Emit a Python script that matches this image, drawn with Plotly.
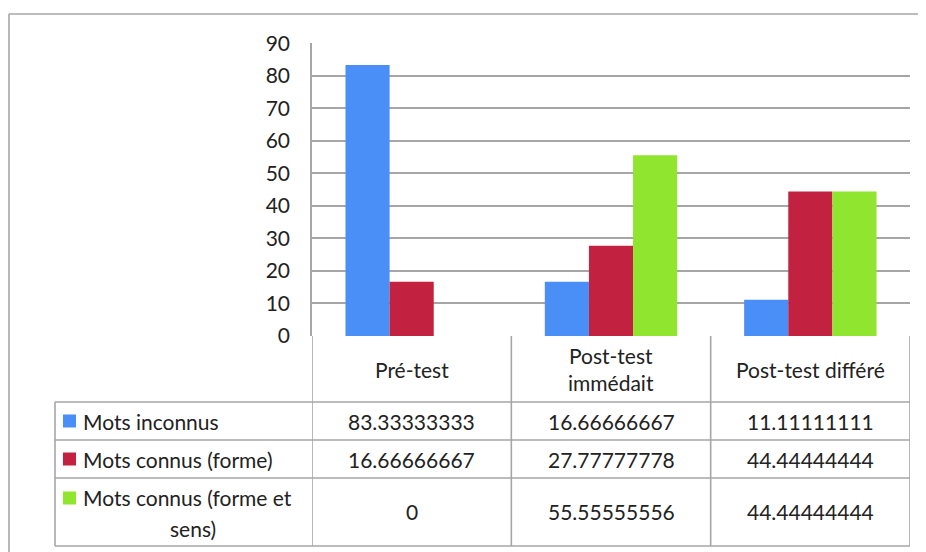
import plotly.graph_objects as go

categories = ["Pré-test", "Post-test<br>immédait", "Post-test différé"]
series_names = ["Mots inconnus", "Mots connus (forme)", "Mots connus (forme et sens)"]
mots_inconnus = [83.33333333, 16.66666667, 11.11111111]
mots_connus_forme = [16.66666667, 27.77777778, 44.44444444]
mots_connus_forme_sens = [0, 55.55555556, 44.44444444]
series_values = [mots_inconnus, mots_connus_forme, mots_connus_forme_sens]
colors = ["#4A8EF8", "#C2223F", "#90E52E"]
y_ticks = [0, 10, 20, 30, 40, 50, 60, 70, 80, 90]

W, H = 926, 552
OFF = 8  # page body margin
FONT = "Lato"
FS = 21
TXT = "#222222"
GRID = "#A6A6A6"

def px(x):
    return (x - OFF) / W

def py(y):
    return 1 - (y - OFF) / H

plot_left, plot_right, plot_top, plot_bottom = 312, 910, 43.3, 336
table_rows = [336, 402, 440, 478, 546]
legend_left = 55

fig = go.Figure()
for name, vals, c in zip(series_names, series_values, colors):
    fig.add_trace(go.Bar(x=list(range(len(categories))), y=vals, name=name,
                         marker=dict(color=c, line=dict(width=0)), showlegend=False))

shapes = []
line = dict(color=GRID, width=1.6)
# outer chart border
shapes.append(dict(type="line", xref="paper", yref="paper", x0=px(9), x1=1.02, y0=py(14), y1=py(14), line=line))
shapes.append(dict(type="line", xref="paper", yref="paper", x0=px(9), x1=px(9), y0=py(14), y1=-0.02, line=line))
# table vertical lines (category boundaries via x axis)
for b in [-0.5, 0.5, 1.5, 2.5]:
    shapes.append(dict(type="line", xref="x", yref="paper", x0=b, x1=b, y0=py(table_rows[0]), y1=py(table_rows[-1]), line=line))
shapes.append(dict(type="line", xref="paper", yref="paper", x0=px(legend_left), x1=px(legend_left), y0=py(table_rows[1]), y1=py(table_rows[-1]), line=line))
# table horizontal lines
for r in table_rows[1:]:
    shapes.append(dict(type="line", xref="paper", yref="paper", x0=px(legend_left), x1=px(plot_right), y0=py(r), y1=py(r), line=line))

annotations = []
font = dict(family=FONT, size=FS, color=TXT)
for i, cat in enumerate(categories):
    annotations.append(dict(x=i, y=py((table_rows[0] + table_rows[1]) / 2), xref="x", yref="paper",
                            text=cat, showarrow=False, font=font, xanchor="center", yanchor="middle"))

def fmt(v):
    return "0" if v == 0 else f"{v:.10g}"

for r, (name, vals, c) in enumerate(zip(series_names, series_values, colors)):
    y0, y1 = table_rows[r + 1], table_rows[r + 2]
    yc = (y0 + y1) / 2
    for i, v in enumerate(vals):
        annotations.append(dict(x=i, y=py(yc), xref="x", yref="paper", text=fmt(v), showarrow=False,
                                font=font, xanchor="center", yanchor="middle"))
    if r < 2:
        ky = yc
        annotations.append(dict(x=px(81), y=py(yc), xref="paper", yref="paper", text=name, showarrow=False,
                                font=font, xanchor="left", yanchor="middle"))
    else:
        ky = y0 + 20
        annotations.append(dict(x=px(81), y=py(ky), xref="paper", yref="paper", text="Mots connus (forme et",
                                showarrow=False, font=font, xanchor="left", yanchor="middle"))
        annotations.append(dict(x=px(193), y=py(ky + 30), xref="paper", yref="paper", text="sens)",
                                showarrow=False, font=font, xanchor="center", yanchor="middle"))
    shapes.append(dict(type="rect", xref="paper", yref="paper", x0=px(63), x1=px(76), y0=py(ky - 6.5), y1=py(ky + 6.5),
                       fillcolor=c, line=dict(width=0)))

fig.update_layout(
    width=W, height=H, margin=dict(l=0, r=0, t=0, b=0, pad=0, autoexpand=False),
    paper_bgcolor="white", plot_bgcolor="white",
    barmode="group", bargap=0.336, bargroupgap=0,
    xaxis=dict(domain=[px(plot_left), px(plot_right)], range=[-0.5, 2.5], showticklabels=False,
               showgrid=False, zeroline=False, showline=False, fixedrange=True, automargin=False),
    yaxis=dict(domain=[py(plot_bottom), py(plot_top)], range=[0, 90], tickvals=y_ticks,
               showgrid=True, gridcolor=GRID, gridwidth=1.6, zeroline=False, automargin=False,
               showline=True, linecolor=GRID, linewidth=1.6, ticks="", ticklabelstandoff=16,
               tickfont=font),
    shapes=shapes, annotations=annotations,
)
fig.write_html("out.html")
